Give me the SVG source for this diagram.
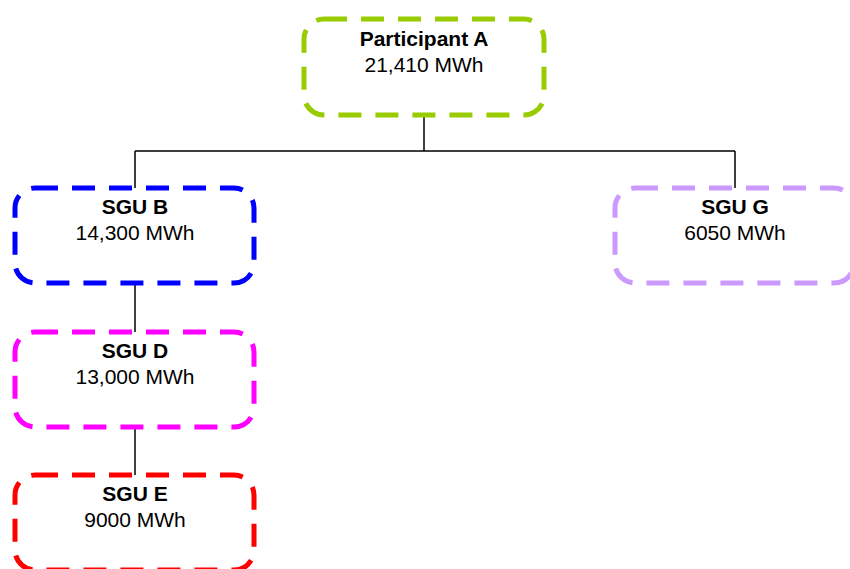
<svg xmlns="http://www.w3.org/2000/svg" width="850" height="569" viewBox="0 0 850 569">
  <style>
    .box { fill: #ffffff; stroke-width: 5; stroke-dasharray: 23 14; }
    .title { font-family: "Liberation Sans", Arial, sans-serif; font-size: 21px; font-weight: bold; fill: #000; text-anchor: middle; }
    .value { font-family: "Liberation Sans", Arial, sans-serif; font-size: 21px; fill: #000; text-anchor: middle; }
    .link { fill: none; stroke: #000; stroke-width: 1.5; }
  </style>
  <rect width="850" height="569" fill="#ffffff"/>

  <!-- connectors -->
  <g id="connectors">
    <path class="link" d="M424,114 V151 M135,151 H735 M135,151 V188 M735,151 V188"/>
    <path class="link" d="M135,283 V332"/>
    <path class="link" d="M135,427 V475"/>
  </g>

  <g id="participant-a">
    <rect class="box" x="304" y="19" width="240" height="96" rx="20" stroke="#99cc00"/>
    <text class="title" x="424" y="46">Participant A</text>
    <text class="value" x="424" y="72">21,410 MWh</text>
  </g>

  <g id="sgu-b">
    <rect class="box" x="15" y="188" width="239" height="95" rx="20" stroke="#0000ff"/>
    <text class="title" x="135" y="214">SGU B</text>
    <text class="value" x="135" y="240">14,300 MWh</text>
  </g>

  <g id="sgu-d">
    <rect class="box" x="15" y="332" width="239" height="95" rx="20" stroke="#ff00ff"/>
    <text class="title" x="135" y="358">SGU D</text>
    <text class="value" x="135" y="384">13,000 MWh</text>
  </g>

  <g id="sgu-e">
    <rect class="box" x="15" y="475" width="239" height="95" rx="20" stroke="#ff0000"/>
    <text class="title" x="135" y="501">SGU E</text>
    <text class="value" x="135" y="527">9000 MWh</text>
  </g>

  <g id="sgu-g">
    <rect class="box" x="615" y="188" width="239" height="95" rx="20" stroke="#cc99ff"/>
    <text class="title" x="735" y="214">SGU G</text>
    <text class="value" x="735" y="240">6050 MWh</text>
  </g>
</svg>
